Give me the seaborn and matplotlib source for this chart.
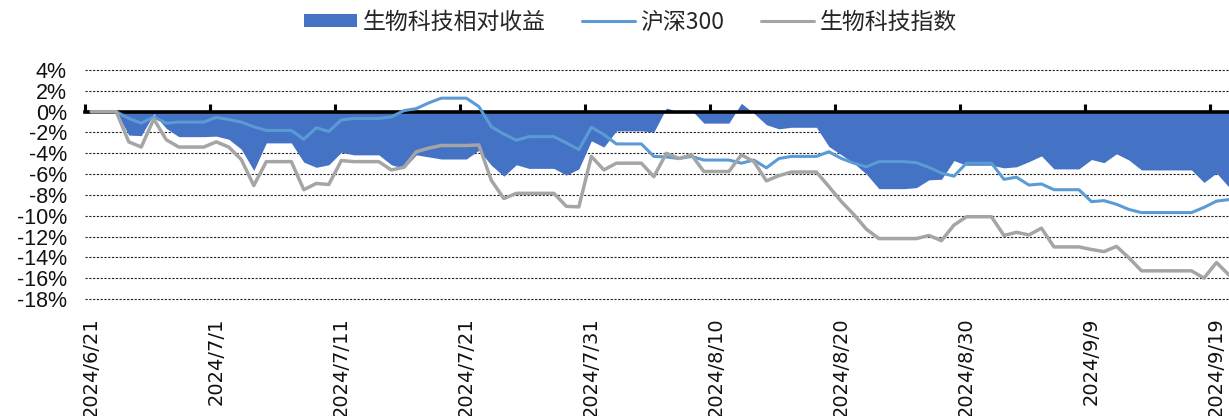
import numpy as np
import pandas as pd
import matplotlib
matplotlib.use("Agg")
import matplotlib.pyplot as plt
from matplotlib.patches import Patch
from matplotlib.lines import Line2D
import seaborn as sns

# ---------------- data (percent) ----------------
dates = pd.date_range("2024-06-21", "2024-09-20", freq="D")

bio_index = [
    0, 0, 0, -2.9, -3.4, -0.7, -2.7, -3.4, -3.4, -3.4,
    -2.9, -3.4, -4.6, -7.1, -4.8, -4.8, -4.8, -7.5, -6.9, -7.0,
    -4.7, -4.8, -4.8, -4.8, -5.6, -5.35, -3.85, -3.5, -3.25, -3.25,
    -3.25, -3.2, -6.6, -8.35, -7.85, -7.85, -7.85, -7.85, -9.1, -9.15,
    -4.3, -5.6, -4.95, -4.95, -4.95, -6.25, -4.0, -4.5, -4.15, -5.75,
    -5.75, -5.75, -4.15, -4.8, -6.65, -6.15, -5.8, -5.8, -5.8, -7.2,
    -8.65, -9.9, -11.3, -12.2, -12.2, -12.2, -12.2, -11.9, -12.4, -10.9,
    -10.1, -10.1, -10.1, -11.9, -11.6, -11.85, -11.2, -13.0, -13.0, -13.0,
    -13.25, -13.45, -12.95, -14.05, -15.3, -15.3, -15.3, -15.3, -15.3, -16.0,
    -14.5, -15.7,
]

hs300 = [
    0, 0, 0, -0.65, -1.1, -0.5, -1.1, -1.0, -1.0, -1.0,
    -0.55, -0.75, -1.0, -1.45, -1.8, -1.8, -1.8, -2.65, -1.55, -1.9,
    -0.8, -0.65, -0.65, -0.65, -0.5, 0.1, 0.3, 0.85, 1.3, 1.3,
    1.3, 0.5, -1.45, -2.15, -2.75, -2.4, -2.4, -2.4, -3.0, -3.65,
    -1.5, -2.2, -3.1, -3.1, -3.1, -4.3, -4.35, -4.5, -4.3, -4.65,
    -4.65, -4.65, -4.95, -4.65, -5.4, -4.5, -4.3, -4.3, -4.3, -3.85,
    -4.5, -4.95, -5.3, -4.8, -4.8, -4.8, -4.9, -5.35, -5.9, -6.2,
    -4.95, -4.95, -4.95, -6.5, -6.3, -7.05, -6.95, -7.5, -7.5, -7.5,
    -8.65, -8.55, -8.9, -9.4, -9.7, -9.7, -9.7, -9.7, -9.7, -9.2,
    -8.6, -8.45,
]

relative = [
    0, 0, 0, -2.25, -2.3, -0.2, -1.6, -2.4, -2.4, -2.4,
    -2.35, -2.65, -3.6, -5.65, -3.0, -3.0, -3.0, -4.85, -5.35, -5.1,
    -3.9, -4.15, -4.15, -4.15, -5.1, -5.45, -4.15, -4.35, -4.55, -4.55,
    -4.55, -3.7, -5.15, -6.2, -5.1, -5.45, -5.45, -5.45, -6.1, -5.5,
    -2.8, -3.4, -1.85, -1.85, -1.85, -1.95, 0.35, 0.0, 0.15, -1.1,
    -1.1, -1.1, 0.8, -0.15, -1.25, -1.65, -1.5, -1.5, -1.5, -3.35,
    -4.15, -4.95, -6.0, -7.4, -7.4, -7.4, -7.3, -6.55, -6.5, -4.7,
    -5.15, -5.15, -5.15, -5.4, -5.3, -4.8, -4.25, -5.5, -5.5, -5.5,
    -4.6, -4.9, -4.05, -4.65, -5.6, -5.6, -5.6, -5.6, -5.6, -6.8,
    -5.9, -7.25,
]

legend_labels = ["生物科技相对收益", "沪深300", "生物科技指数"]
y_ticks = list(range(-18, 5, 2))

# ---------------- styling ----------------
sns.set_theme(style="white")
plt.rcParams["font.family"] = ["Liberation Sans", "DejaVu Sans"]
plt.rcParams["axes.unicode_minus"] = False

c_rel = "#4472C4"
c_hs = "#5B9BD5"
c_bio = "#A5A5A5"

day = np.asarray((dates - dates[0]).days, dtype=float)
df = pd.DataFrame({"day": day, "bio": bio_index, "hs300": hs300, "rel": relative})

fig = plt.figure(figsize=(12.29, 4.16), dpi=100)
ax = fig.add_axes([85 / 1229, 1 - 301 / 416, 1 - 85 / 1229, (301 - 68) / 416])

ax.fill_between(df["day"], df["rel"], 0, color=c_rel, linewidth=0, zorder=1)
sns.lineplot(data=df, x="day", y="hs300", ax=ax, color=c_hs, linewidth=2.2, zorder=3)
sns.lineplot(data=df, x="day", y="bio", ax=ax, color=c_bio, linewidth=2.5, zorder=4)

ax.set_xlim(-0.5, 91.0)
ax.set_ylim(-18.2, 4.2)
ax.set_xlabel("")
ax.set_ylabel("")

# y axis
ax.set_yticks(y_ticks)
ax.set_yticklabels([f"{v}%" for v in y_ticks], fontsize=15.5, color="#111111")
ax.tick_params(axis="y", length=0, pad=13)
ax.grid(axis="y", color="#222222", linestyle=(0, (2.0, 1.4)), linewidth=0.8)
ax.grid(axis="x", visible=False)
for s in ["left", "right", "top"]:
    ax.spines[s].set_visible(False)

# x axis line at 0 with tick marks at period boundaries
ax.spines["bottom"].set_position(("data", 0))
ax.spines["bottom"].set_color("black")
ax.spines["bottom"].set_linewidth(2.6)
ax.spines["bottom"].set_zorder(2)
label_days = day[::10]
ax.set_xticks(label_days - 0.5)
ax.set_xticklabels([])
ax.tick_params(axis="x", direction="in", length=6, width=2.2, color="black", bottom=True)

# date labels at bottom
sec = ax.secondary_xaxis("bottom")
sec.set_xticks(label_days)
sec.set_xticklabels([f"{d.year}/{d.month}/{d.day}" for d in dates[::10]],
                    rotation=90, fontsize=14, family="DejaVu Sans", color="#111111")
sec.tick_params(axis="x", length=0, pad=12)
sec.spines["bottom"].set_visible(False)

# legend
handles = [
    Patch(facecolor=c_rel, edgecolor="none"),
    Line2D([], [], color=c_hs, linewidth=2.2),
    Line2D([], [], color=c_bio, linewidth=2.2),
]
fig.legend(handles, legend_labels, loc="center", bbox_to_anchor=(0.513, 0.947),
           ncol=3, frameon=False, handlelength=2.3, handletextpad=0.25,
           columnspacing=1.6, handleheight=0.55,
           prop={"family": ["Noto Sans CJK SC", "DejaVu Sans"], "size": 16.5})

fig.savefig("out.png", dpi=100)
